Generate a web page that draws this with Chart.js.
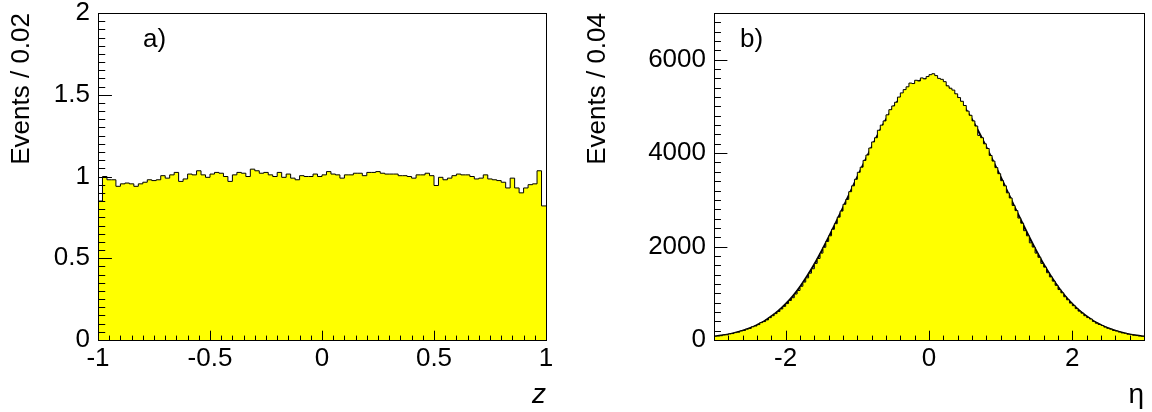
<!DOCTYPE html>
<html>
<head>
<meta charset="utf-8">
<script src="https://cdn.jsdelivr.net/npm/chart.js@4.4.0/dist/chart.umd.min.js"></script>
<style>
  html, body { margin: 0; padding: 0; background: #fff; }
  #wrap { position: relative; width: 1152px; height: 412px; }
  canvas { position: absolute; top: 0; }
  #zChart { left: 0; }
  #etaChart { left: 576px; }
</style>
</head>
<body>
<div id="wrap">
  <canvas id="zChart" width="576" height="412"></canvas>
  <canvas id="etaChart" width="576" height="412"></canvas>
</div>
<script>
// a) z distribution, 100 bins on [-1, 1]
const zRange = [-1, 1];
const zCounts = [
  0.85, 1.00, 0.98, 0.98, 0.94, 0.955, 0.96, 0.955, 0.94, 0.955,
  0.965, 0.98, 0.975, 0.98, 1.005, 0.99, 1.01, 1.025, 0.97, 0.985,
  1.015, 1.01, 1.035, 1.01, 0.995, 1.015, 1.025, 1.02, 1.00, 0.97,
  1.01, 1.025, 1.02, 1.00, 1.045, 1.035, 1.02, 1.025, 1.01, 1.00,
  1.025, 0.995, 1.015, 0.99, 0.98, 1.005, 1.00, 1.00, 1.015, 1.00,
  1.01, 1.03, 1.015, 1.01, 0.99, 1.01, 1.01, 1.02, 1.02, 1.005,
  1.025, 1.025, 1.03, 1.02, 1.015, 1.015, 1.015, 1.005, 1.005, 1.00,
  0.99, 1.01, 1.01, 1.02, 1.005, 0.945, 0.995, 0.98, 0.99, 1.005,
  1.015, 1.01, 1.01, 1.00, 0.985, 0.99, 1.01, 0.985, 0.98, 0.975,
  0.965, 0.93, 0.99, 0.93, 0.90, 0.93, 0.95, 0.955, 1.035, 0.82
];
const zTicksX = [-1, -0.5, 0, 0.5, 1];
const zTicksY = [0, 0.5, 1, 1.5, 2];

// b) eta distribution, 150 bins on [-3, 3], with the fitted curve
const etaRange = [-3, 3];
const etaCounts = [
  80, 84, 92, 106, 112, 130, 138, 158, 168, 192,
  205, 232, 248, 282, 300, 330, 372, 395, 430, 478,
  520, 565, 610, 665, 720, 780, 845, 905, 985, 1060,
  1150, 1240, 1330, 1430, 1525, 1640, 1745, 1860, 1985, 2110,
  2230, 2370, 2490, 2630, 2760, 2905, 3010, 3175, 3300, 3440,
  3590, 3700, 3845, 3960, 4110, 4240, 4330, 4490, 4600, 4690,
  4820, 4930, 5010, 5090, 5200, 5290, 5360, 5420, 5500, 5490,
  5560, 5545, 5610, 5590, 5640,
  5680, 5700, 5660, 5600, 5580, 5530, 5440, 5390, 5350, 5270,
  5190, 5110, 5020, 4900, 4810, 4690, 4580, 4380, 4330, 4200,
  4100, 3950, 3830, 3690, 3560, 3410, 3300, 3150, 3040, 2880,
  2770, 2610, 2500, 2340, 2230, 2080, 1990, 1860, 1770, 1640,
  1560, 1440, 1350, 1260, 1170, 1080, 1010, 925, 860, 790,
  735, 672, 618, 575, 520, 480, 448, 398, 360, 332,
  310, 276, 250, 232, 205, 190, 170, 152, 143, 125,
  116, 102, 95, 84, 78
];
const etaFitX = [
  -3.0, -2.9, -2.8, -2.7, -2.6, -2.5, -2.4, -2.3, -2.2, -2.1,
  -2.0, -1.9, -1.8, -1.7, -1.6, -1.5, -1.4, -1.3, -1.2, -1.1,
  -1.0, -0.9, -0.8, -0.7, -0.6, -0.5, -0.4, -0.3, -0.2, -0.1,
  0.0, 0.1, 0.2, 0.3, 0.4, 0.5, 0.6, 0.7, 0.8, 0.9,
  1.0, 1.1, 1.2, 1.3, 1.4, 1.5, 1.6, 1.7, 1.8, 1.9,
  2.0, 2.1, 2.2, 2.3, 2.4, 2.5, 2.6, 2.7, 2.8, 2.9, 3.0
];
const etaFitY = [
  73, 94, 120, 155, 198, 252, 320, 400, 505, 625,
  770, 940, 1140, 1370, 1620, 1900, 2200, 2510, 2830, 3160,
  3490, 3810, 4130, 4440, 4720, 4970, 5190, 5360, 5490, 5565,
  5590, 5565, 5490, 5360, 5190, 4970, 4720, 4440, 4130, 3810,
  3490, 3160, 2830, 2510, 2200, 1900, 1620, 1370, 1140, 940,
  770, 625, 505, 400, 320, 252, 198, 155, 120, 94, 73
];
const etaTicksX = [-2, 0, 2];
const etaTicksY = [0, 2000, 4000, 6000];

const FONT = 'Liberation Sans, Arial, Helvetica, sans-serif';

// histogram as a step line: one point per lower bin edge, plus the upper edge
function stepPoints(range, counts) {
  const w = (range[1] - range[0]) / counts.length;
  const pts = counts.map((c, i) => ({ x: range[0] + i * w, y: c }));
  pts.push({ x: range[1], y: counts[counts.length - 1] });
  return pts;
}

// frame, inward ticks and the panel letter
const rootAxes = {
  id: 'rootAxes',
  afterDatasetsDraw(chart, args, o) {
    const { ctx, chartArea: a, scales: { x, y } } = chart;
    const L = Math.round(a.left) + 0.5, R = Math.round(a.right) + 0.5;
    const T = Math.round(a.top) + 0.5, B = Math.round(a.bottom) + 0.5;
    ctx.save();
    ctx.strokeStyle = '#000';
    ctx.lineWidth = 1;
    ctx.beginPath();
    const ticks = (scale, minor, major, draw) => {
      const n = Math.round((scale.max - scale.min) / minor);
      for (let k = 0; k <= n; k++) {
        const v = scale.min + k * minor;
        const isMajor = Math.abs(v / major - Math.round(v / major)) < 1e-6;
        draw(Math.round(scale.getPixelForValue(v)) + 0.5, isMajor);
      }
    };
    const xLen = a.height * 0.03, yLen = a.width * 0.03;
    ticks(x, o.xMinor, o.xMajor, (px, big) => {
      ctx.moveTo(px, B);
      ctx.lineTo(px, B - (big ? xLen : xLen / 2));
    });
    ticks(y, o.yMinor, o.yMajor, (py, big) => {
      ctx.moveTo(L, py);
      ctx.lineTo(L + (big ? yLen : yLen / 2), py);
    });
    ctx.stroke();
    ctx.strokeRect(L, T, R - L, B - T);
    ctx.fillStyle = '#000';
    ctx.font = '26px ' + FONT;
    ctx.textBaseline = 'alphabetic';
    ctx.fillText(o.label, a.left + o.labelDx, a.top + 34);
    ctx.restore();
  }
};

function histChart(id, c) {
  const tickFont = { family: FONT, size: 26 };
  return new Chart(document.getElementById(id), {
    type: 'line',
    data: { datasets: c.datasets },
    options: {
      responsive: false,
      animation: false,
      layout: { padding: { top: 13, right: c.padRight, left: 0, bottom: 0 } },
      plugins: {
        legend: { display: false },
        tooltip: { enabled: false },
        rootAxes: c.axes
      },
      scales: {
        x: {
          type: 'linear',
          min: c.xRange[0],
          max: c.xRange[1],
          grid: { display: false, drawTicks: false },
          border: { display: false },
          afterBuildTicks: s => { s.ticks = c.xTicks.map(v => ({ value: v })); },
          afterFit: s => { s.height = 72; s.paddingLeft = 0; s.paddingRight = 0; },
          ticks: {
            font: tickFont, color: '#000', padding: 3,
            maxRotation: 0, autoSkip: false, callback: v => String(v)
          },
          title: {
            display: true, text: c.xTitle, align: 'end', color: '#000',
            font: c.xTitleFont, padding: { top: 0, bottom: 0 }
          }
        },
        y: {
          min: c.yRange[0],
          max: c.yRange[1],
          grid: { display: false, drawTicks: false },
          border: { display: false },
          afterBuildTicks: s => { s.ticks = c.yTicks.map(v => ({ value: v })); },
          afterFit: s => { s.width = c.yWidth; s.paddingTop = 0; s.paddingBottom = 0; },
          ticks: {
            font: tickFont, color: '#000', padding: 8, callback: v => String(v)
          },
          title: {
            display: true, text: c.yTitle, align: 'end', color: '#000',
            font: { family: FONT, size: 26 }, padding: { top: 6, bottom: 0 }
          }
        }
      }
    },
    plugins: [rootAxes]
  });
}

const histStyle = {
  stepped: true,
  fill: 'origin',
  backgroundColor: '#ffff00',
  borderColor: '#000',
  borderWidth: 1,
  pointRadius: 0
};

histChart('zChart', {
  datasets: [{ ...histStyle, data: stepPoints(zRange, zCounts) }],
  xRange: zRange, yRange: [0, 2],
  xTicks: zTicksX, yTicks: zTicksY,
  xTitle: 'z', xTitleFont: { family: FONT, size: 28, style: 'italic' },
  yTitle: 'Events / 0.02',
  yWidth: 98, padRight: 30,
  axes: { xMinor: 0.05, xMajor: 0.5, yMinor: 0.05, yMajor: 0.5, label: 'a)', labelDx: 45 }
});

histChart('etaChart', {
  datasets: [
    { ...histStyle, data: stepPoints(etaRange, etaCounts) },
    {
      data: etaFitX.map((x, i) => ({ x, y: etaFitY[i] })),
      borderColor: '#000', borderWidth: 2, pointRadius: 0,
      fill: false, cubicInterpolationMode: 'monotone'
    }
  ],
  xRange: etaRange, yRange: [0, 7000],
  xTicks: etaTicksX, yTicks: etaTicksY,
  xTitle: 'η', xTitleFont: { family: FONT, size: 28 },
  yTitle: 'Events / 0.04',
  yWidth: 138, padRight: 8,
  axes: { xMinor: 0.2, xMajor: 2, yMinor: 200, yMajor: 2000, label: 'b)', labelDx: 26 }
});
</script>
</body>
</html>
